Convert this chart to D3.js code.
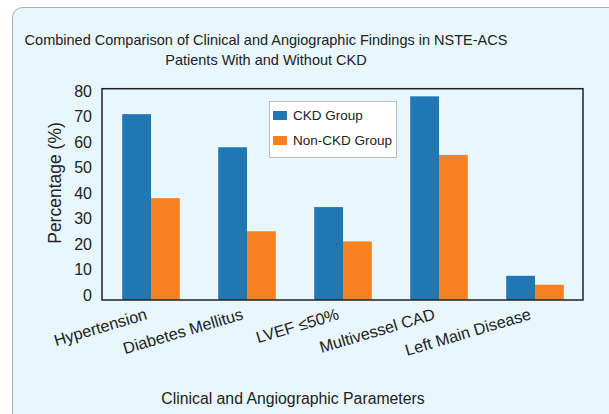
<!DOCTYPE html>
<html lang="en">
<head>
  <meta charset="utf-8">
  <title>CKD vs Non-CKD</title>
  <script src="https://d3js.org/d3.v7.min.js"></script>
  <style>
    body { margin: 0; background: #ffffff; }
    text { font-family: "Liberation Sans", Arial, sans-serif; fill: #222; }
  </style>
</head>
<body>
  <script>
    // data
    var categories = ["Hypertension", "Diabetes Mellitus", "LVEF \u226450%", "Multivessel CAD", "Left Main Disease"];
    var seriesNames = ["CKD Group", "Non-CKD Group"];
    var ckdValues = [71, 58, 34.5, 78, 7.5];
    var nonCkdValues = [38, 25, 21, 55, 4];
    var yTicks = [0, 10, 20, 30, 40, 50, 60, 70, 80];

    var w = 609, h = 414;
    var colors = ["#1f77b4", "#f7821f"];

    var svg = d3.select("body").append("svg")
      .attr("width", w)
      .attr("height", h);

    // card background
    svg.append("rect")
      .attr("x", 12.5).attr("y", 7.5)
      .attr("width", 640).attr("height", 440)
      .attr("rx", 10)
      .attr("fill", "#e8f6fd")
      .attr("stroke", "#aaaaaa");

    var plotLeft = 102, plotRight = 583, plotTop = 88.7, plotBottom = 300;
    var yMin = -2;

    var x = d3.scaleBand()
      .domain(categories)
      .range([plotLeft + 1, plotRight])
      .paddingInner(0.4)
      .paddingOuter(0.2);

    var x1 = d3.scaleBand()
      .domain(seriesNames)
      .range([0, x.bandwidth()]);

    var y = d3.scaleLinear()
      .domain([yMin, 81])
      .range([plotBottom, plotTop]);

    // title
    svg.append("text")
      .attr("x", 266).attr("y", 45)
      .attr("text-anchor", "middle")
      .style("font-size", "14.5px")
      .text("Combined Comparison of Clinical and Angiographic Findings in NSTE-ACS");
    svg.append("text")
      .attr("x", 266).attr("y", 65)
      .attr("text-anchor", "middle")
      .style("font-size", "14.5px")
      .text("Patients With and Without CKD");

    // bars
    var rows = categories.map(function(c, i) {
      return { cat: c, vals: [ckdValues[i], nonCkdValues[i]] };
    });

    var groups = svg.selectAll("g.group")
      .data(rows)
      .enter().append("g")
      .attr("class", "group")
      .attr("transform", function(d) { return "translate(" + x(d.cat) + ",0)"; });

    groups.selectAll("rect")
      .data(function(d) { return d.vals.map(function(v, j) { return { name: seriesNames[j], v: v, j: j }; }); })
      .enter().append("rect")
      .attr("x", function(d) { return x1(d.name); })
      .attr("width", x1.bandwidth())
      .attr("y", function(d) { return y(d.v); })
      .attr("height", function(d) { return y(yMin) - y(d.v); })
      .attr("fill", function(d) { return colors[d.j]; });

    // frame
    svg.append("rect")
      .attr("x", plotLeft).attr("y", plotTop)
      .attr("width", plotRight - plotLeft).attr("height", plotBottom - plotTop)
      .attr("fill", "none")
      .attr("stroke", "#222")
      .attr("stroke-width", 1.5);

    // y axis
    var yAxis = svg.append("g")
      .attr("transform", "translate(" + (plotLeft - 10) + ",0)")
      .call(d3.axisLeft(y).tickValues(yTicks).tickSize(0).tickPadding(0));
    yAxis.select(".domain").remove();
    yAxis.selectAll("text")
      .style("font-size", "16px")
      .style("font-family", "'Liberation Sans', Arial, sans-serif")
      .attr("fill", "#222");

    svg.append("text")
      .attr("transform", "translate(61,183) rotate(-90)")
      .attr("text-anchor", "middle")
      .style("font-size", "17.5px")
      .text("Percentage (%)");

    // x labels
    svg.selectAll("text.xlab")
      .data(categories)
      .enter().append("text")
      .attr("class", "xlab")
      .attr("text-anchor", "end")
      .style("font-size", "16.3px")
      .attr("transform", function(d) {
        return "translate(" + (x(d) + x.bandwidth() / 2 - 3) + ",319) rotate(-16.5)";
      })
      .text(function(d) { return d; });

    svg.append("text")
      .attr("x", 293).attr("y", 403.5)
      .attr("text-anchor", "middle")
      .style("font-size", "15.8px")
      .text("Clinical and Angiographic Parameters");

    // legend
    var lg = svg.append("g").attr("transform", "translate(269.5,101.5)");
    lg.append("rect")
      .attr("width", 127).attr("height", 56)
      .attr("fill", "#ffffff")
      .attr("stroke", "#bbbbbb");
    seriesNames.forEach(function(name, i) {
      lg.append("rect")
        .attr("x", 3.5).attr("y", 9.5 + i * 25)
        .attr("width", 14).attr("height", 9)
        .attr("fill", colors[i]);
      lg.append("text")
        .attr("x", 23.5).attr("y", 18.5 + i * 25)
        .style("font-size", "13.5px")
        .text(name);
    });
  </script>
</body>
</html>
